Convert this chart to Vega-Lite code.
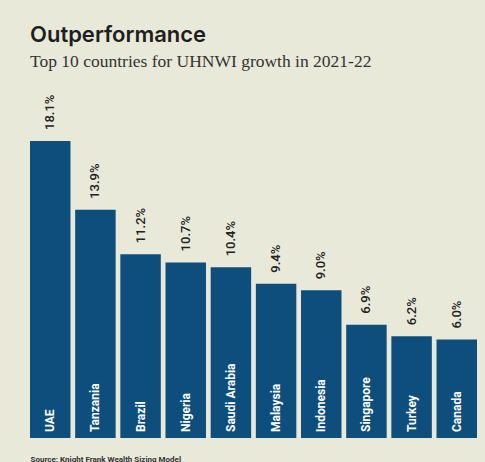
{
  "$schema": "https://vega.github.io/schema/vega-lite/v6.json",
  "width": 447,
  "height": 345,
  "autosize": {"type": "none"},
  "padding": {"left": 30, "top": 93, "right": 8, "bottom": 24},
  "background": "#e9e9d9",
  "title": {
    "text": "Outperformance",
    "subtitle": "Top 10 countries for UHNWI growth in 2021-22",
    "anchor": "start",
    "frame": "group",
    "font": "Inter",
    "fontSize": 22,
    "fontWeight": 600,
    "color": "#1e1e1e",
    "subtitleFont": "Liberation Serif",
    "subtitleFontSize": 17.5,
    "subtitleColor": "#333333",
    "subtitlePadding": 6,
    "offset": 22
  },
  "data": {
    "values": [
      {"country": "UAE", "growth": 18.1, "label": "18.1%"},
      {"country": "Tanzania", "growth": 13.9, "label": "13.9%"},
      {"country": "Brazil", "growth": 11.2, "label": "11.2%"},
      {"country": "Nigeria", "growth": 10.7, "label": "10.7%"},
      {"country": "Saudi Arabia", "growth": 10.4, "label": "10.4%"},
      {"country": "Malaysia", "growth": 9.4, "label": "9.4%"},
      {"country": "Indonesia", "growth": 9.0, "label": "9.0%"},
      {"country": "Singapore", "growth": 6.9, "label": "6.9%"},
      {"country": "Turkey", "growth": 6.2, "label": "6.2%"},
      {"country": "Canada", "growth": 6.0, "label": "6.0%"}
    ]
  },
  "config": {"view": {"stroke": null}},
  "encoding": {
    "x": {
      "field": "country",
      "type": "nominal",
      "sort": null,
      "scale": {"paddingInner": 0.104, "paddingOuter": 0},
      "axis": {
        "labels": false,
        "ticks": false,
        "domain": false,
        "grid": false,
        "title": "Source: Knight Frank Wealth Sizing Model",
        "titleAnchor": "start",
        "titleAlign": "left",
        "titleBaseline": "top",
        "titlePadding": 17,
        "titleFont": "Roboto",
        "titleFontSize": 8,
        "titleFontWeight": 700,
        "titleColor": "#333333"
      }
    },
    "y": {
      "field": "growth",
      "type": "quantitative",
      "scale": {"domain": [0, 21.02], "nice": false},
      "axis": null
    }
  },
  "layer": [
    {"mark": {"type": "bar", "color": "#0e4e7d"}},
    {
      "mark": {"type": "text", "angle": -90, "align": "left", "baseline": "middle", "dx": 11, "font": "Roboto", "fontSize": 13, "fontWeight": 500, "color": "#222222"},
      "encoding": {"text": {"field": "label"}}
    },
    {
      "mark": {"type": "text", "angle": -90, "align": "left", "baseline": "middle", "dx": 6, "font": "Roboto", "fontSize": 12, "fontWeight": 700, "color": "#ffffff"},
      "encoding": {"y": {"datum": 0}, "text": {"field": "country"}}
    }
  ]
}
